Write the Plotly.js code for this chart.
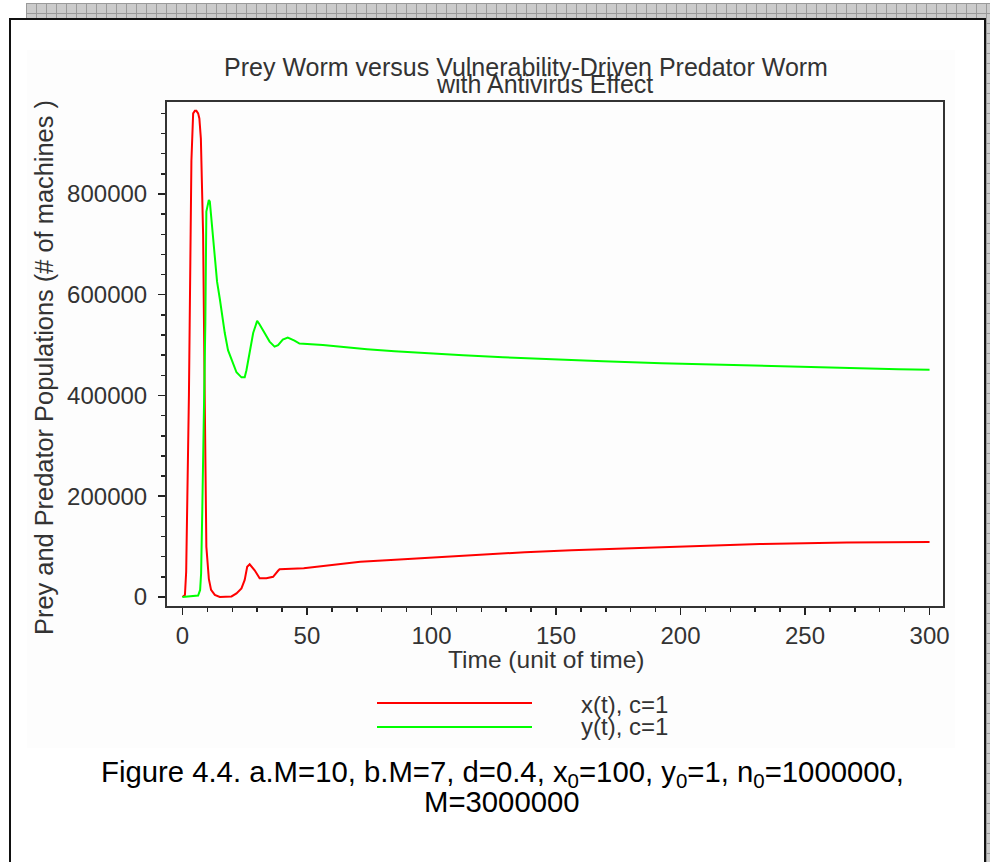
<!DOCTYPE html>
<html>
<head>
<meta charset="utf-8">
<script src="https://cdn.plot.ly/plotly-3.0.1.min.js"></script>
<style>
html, body { margin: 0; padding: 0; background: #ffffff; }
#wrap { position: relative; width: 990px; height: 862px; overflow: hidden; background: #ffffff; }
.hatch { position: absolute; background-color: #cbcbcb;
  background-image: linear-gradient(to right, #9a9a9a 1px, transparent 1px),
                    linear-gradient(to bottom, #9a9a9a 1px, transparent 1px);
  background-size: 10px 10px; }
#frame { position: absolute; left: 9px; top: 18px; width: 973px; height: 900px; border: 2px solid #111; }
#chartbg { position: absolute; left: 27px; top: 50px; width: 928px; height: 698px; background: #fdfdfd; }
#plot { position: absolute; left: 0; top: 0; width: 990px; height: 862px; }
</style>
</head>
<body>
<div id="wrap">
  <div class="hatch" style="left:26px;top:3px;width:964px;height:15px;"></div>
  <div class="hatch" style="left:986px;top:3px;width:4px;height:859px;"></div>
  <div id="frame"></div>
  <div id="chartbg"></div>
  <div id="plot"></div>
</div>
<script>
// ---------------- data ----------------
const tPrey = [0, 1.0, 1.5, 2.6, 3.6, 4.3, 5.0, 5.6, 6.3, 6.8, 7.4, 8.3, 9.0, 9.6, 10.6, 11.5, 13, 15, 19.7, 21.7, 23.7, 25, 26, 27, 29, 31, 33.7, 36.4, 38.4, 39, 48.7, 55.3, 62, 71.4, 82, 92.8, 105.3, 120.7, 137.5, 156.2, 179.7, 204.4, 231.9, 266.8, 300];
const prey  = [0, 4000, 50000, 400000, 866000, 960000, 965000, 965000, 960000, 950000, 910000, 720000, 372000, 100000, 36000, 14000, 4000, 0, 1000, 7000, 17000, 34000, 60000, 65000, 53000, 37000, 37000, 40000, 52000, 55000, 57000, 61000, 65000, 70000, 73000, 76000, 80000, 85000, 89000, 93000, 97000, 101000, 105000, 108000, 109000];

const tPred = [0, 6.3, 7.1, 7.5, 8.0, 8.7, 9.2, 9.6, 10.6, 11.0, 11.6, 12.3, 13.0, 13.9, 15, 16, 17, 18.3, 19.7, 21.7, 23.7, 25, 25.7, 27, 28.4, 30, 31, 33, 35, 37, 38.4, 40.3, 42.3, 45, 47, 56.4, 64.4, 74.1, 85.2, 97.5, 112.7, 128.7, 146.6, 168.9, 192.4, 221.2, 252.7, 287.5, 300];
const pred  = [0, 3000, 14000, 47000, 180000, 368000, 544000, 765000, 788000, 785000, 751000, 707000, 666000, 626000, 592000, 555000, 524000, 490000, 470000, 446000, 436000, 436000, 450000, 490000, 524000, 548000, 541000, 524000, 507000, 497000, 500000, 511000, 515000, 509000, 503000, 500000, 496000, 492000, 488000, 484000, 480000, 476000, 472000, 468000, 464000, 460000, 456000, 452000, 451000];

const seriesNames = ["x(t), c=1", "y(t), c=1"];
const seriesColors = ["#ff0000", "#00ff00"];
const xTickVals = [0, 50, 100, 150, 200, 250, 300];
const yTickVals = [0, 200000, 400000, 600000, 800000];
const titleLine1 = "Prey Worm versus Vulnerability-Driven Predator Worm";
const titleLine2 = "with Antivirus Effect";
const xTitle = "Time (unit of time)";
const yTitle = "Prey and Predator Populations (# of machines )";
const caption1 = "Figure 4.4. a.M=10, b.M=7, d=0.4, x<sub>0</sub>=100, y<sub>0</sub>=1, n<sub>0</sub>=1000000,";
const caption2 = "M=3000000";

// ---------------- layout helpers (page pixels -> paper coords) ----------------
const W = 990, H = 862;
const M = {l: 167, r: 47, t: 102, b: 256};
const PW = W - M.l - M.r, PH = H - M.t - M.b;
const px = x => (x - M.l) / PW;
const py = y => (H - M.b - y) / PH;

const FONT = "Liberation Sans, Arial, Helvetica, sans-serif";
const TXT = "#333333";

const traces = [
  {x: tPrey, y: prey, name: seriesNames[0], type: "scatter", mode: "lines",
   line: {color: seriesColors[0], width: 2}},
  {x: tPred, y: pred, name: seriesNames[1], type: "scatter", mode: "lines",
   line: {color: seriesColors[1], width: 2}}
];

const axisCommon = {
  showline: true, linecolor: "#333333", linewidth: 2, mirror: true,
  showgrid: false, zeroline: false,
  ticks: "outside", ticklen: 7, tickwidth: 1.5, tickcolor: "#222222",
  tickfont: {family: FONT, size: 24, color: TXT}
};

function ann(text, x, y, size, color, extra) {
  return Object.assign({text: text, xref: "paper", yref: "paper", x: px(x), y: py(y),
    xanchor: "center", yanchor: "middle", showarrow: false,
    font: {family: FONT, size: size, color: color}}, extra || {});
}

const layout = {
  width: W, height: H,
  margin: M,
  paper_bgcolor: "rgba(0,0,0,0)",
  plot_bgcolor: "rgba(0,0,0,0)",
  showlegend: false,
  title: {text: titleLine1, font: {family: FONT, size: 25, color: TXT},
          xref: "paper", x: px(526), xanchor: "center",
          yref: "container", y: (H - 67) / H, yanchor: "middle", pad: {t: 0, b: 0, l: 0, r: 0}},
  xaxis: Object.assign({}, axisCommon, {
    range: [-6.2, 305.4], tickmode: "array", tickvals: xTickVals,
    ticktext: xTickVals.map(String),
    minor: {dtick: 10, tick0: 0, ticks: "outside", ticklen: 4, tickwidth: 1.5, tickcolor: "#222222", showgrid: false}
  }),
  yaxis: Object.assign({}, axisCommon, {
    range: [-17900, 982600], tickmode: "array", tickvals: yTickVals,
    ticktext: yTickVals.map(String), ticklabelstandoff: 6,
    minor: {dtick: 40000, tick0: 0, ticks: "outside", ticklen: 4, tickwidth: 1.5, tickcolor: "#222222", showgrid: false}
  }),
  shapes: [
    {type: "line", xref: "paper", yref: "paper", x0: px(377), x1: px(532), y0: py(703), y1: py(703),
     line: {color: seriesColors[0], width: 2}},
    {type: "line", xref: "paper", yref: "paper", x0: px(377), x1: px(532), y0: py(727), y1: py(727),
     line: {color: seriesColors[1], width: 2}}
  ],
  annotations: [
    ann(titleLine2, 544.5, 84, 25, TXT),
    ann(xTitle, 546.5, 659, 24.5, TXT),
    ann(yTitle, 44, 368, 25.4, TXT, {textangle: -90}),
    ann(seriesNames[0], 579, 704, 24, TXT, {xanchor: "left"}),
    ann(seriesNames[1], 579, 726, 24, TXT, {xanchor: "left"}),
    ann(caption1, 502, 773, 29.3, "#000000"),
    ann(caption2, 502, 801, 29.3, "#000000")
  ]
};

Plotly.newPlot("plot", traces, layout, {displayModeBar: false, staticPlot: true});
</script>
</body>
</html>
